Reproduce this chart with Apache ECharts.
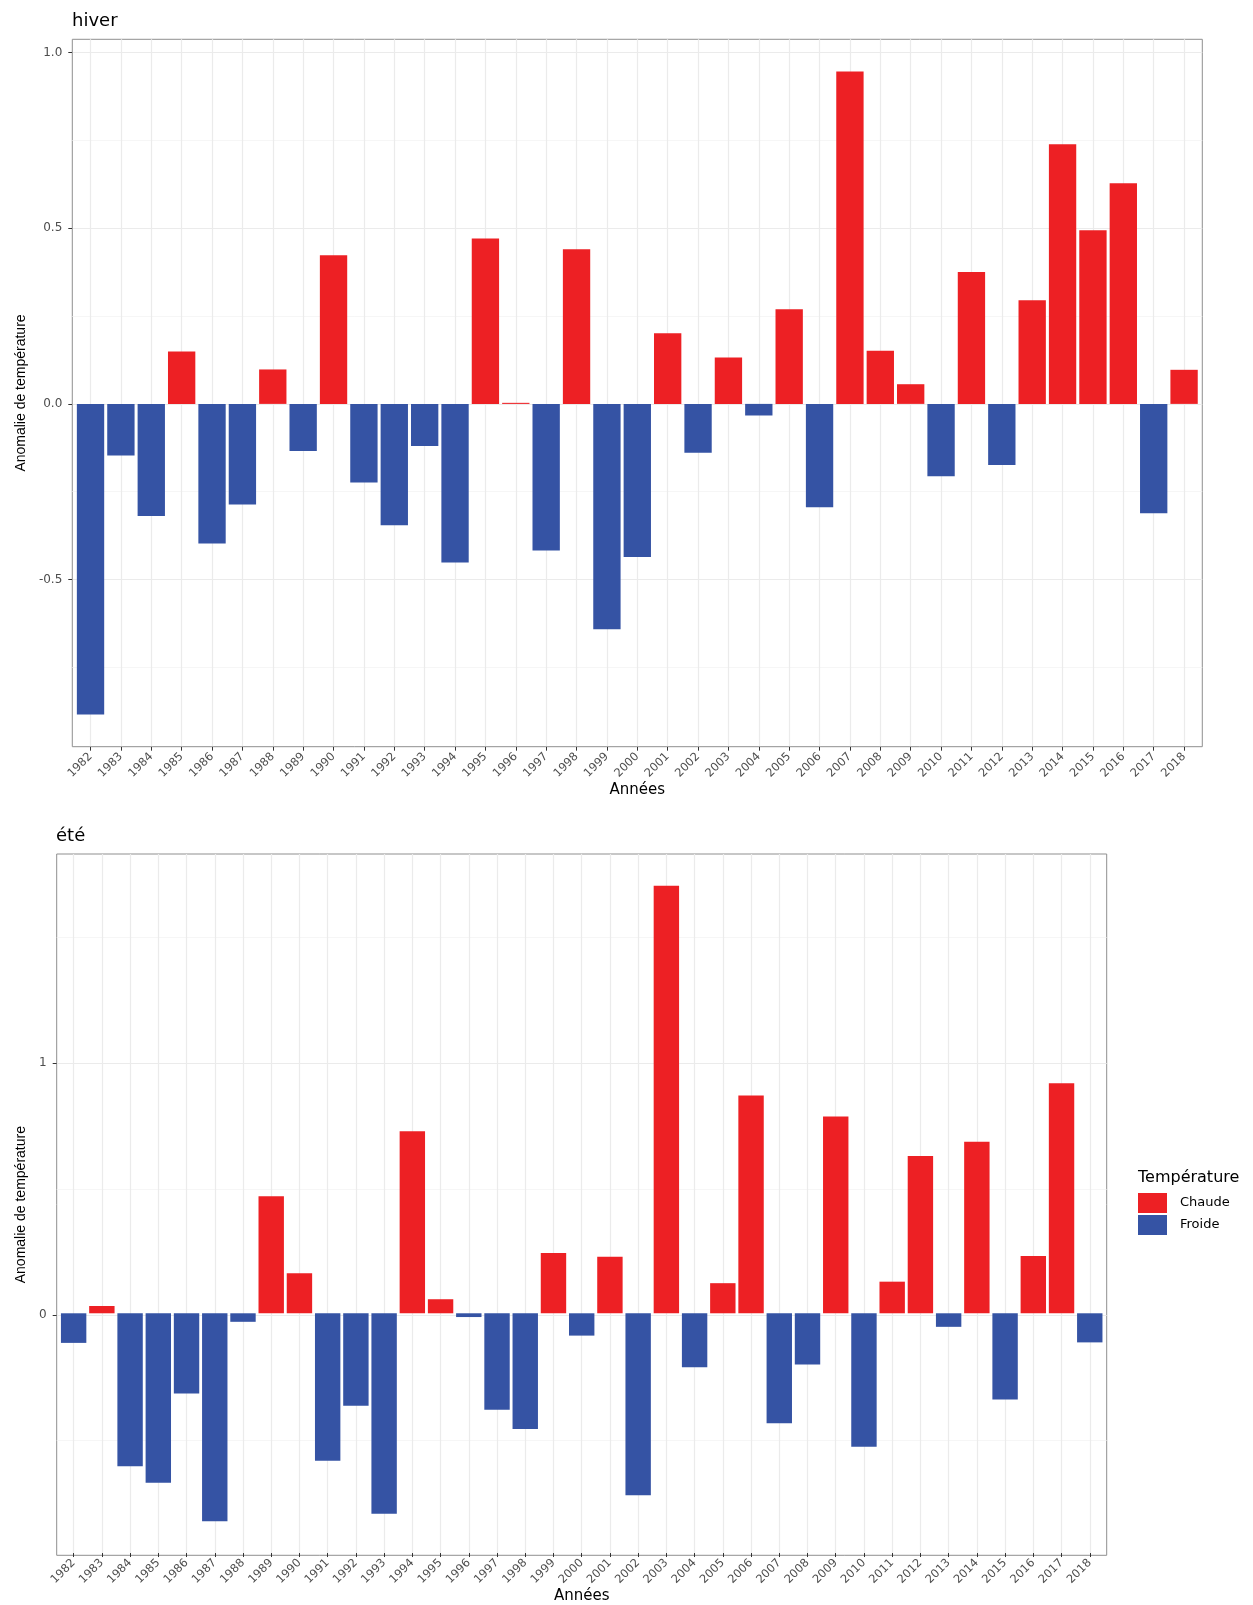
<!DOCTYPE html>
<html>
<head>
<meta charset="utf-8">
<script src="https://cdn.jsdelivr.net/npm/echarts@6/dist/echarts.min.js"></script>
<style>
html,body{margin:0;padding:0;background:#fff;}
#chart{width:1253px;height:1605px;}
</style>
</head>
<body>
<div id="chart"></div>
<script>
// ---- data ----
const years = ['1982','1983','1984','1985','1986','1987','1988','1989','1990','1991','1992','1993','1994','1995','1996','1997','1998','1999','2000','2001','2002','2003','2004','2005','2006','2007','2008','2009','2010','2011','2012','2013','2014','2015','2016','2017','2018'];
const hiverValues = [-0.884,-0.147,-0.319,0.149,-0.397,-0.286,0.098,-0.134,0.423,-0.224,-0.345,-0.120,-0.451,0.471,0.003,-0.417,0.440,-0.641,-0.436,0.201,-0.139,0.132,-0.033,0.269,-0.294,0.946,0.151,0.056,-0.206,0.375,-0.174,0.295,0.739,0.494,0.628,-0.311,0.097];
const eteValues = [-0.118,0.029,-0.610,-0.675,-0.320,-0.829,-0.034,0.466,0.160,-0.588,-0.369,-0.799,0.726,0.056,-0.015,-0.385,-0.461,0.240,-0.089,0.225,-0.725,1.704,-0.215,0.120,0.868,-0.438,-0.204,0.784,-0.532,0.126,0.627,-0.054,0.684,-0.344,0.228,0.917,-0.116];
const hiverMajorTicks = [-0.5, 0, 0.5, 1.0];
const hiverMinorTicks = [-0.75, -0.25, 0.25, 0.75];
const eteMajorTicks = [0, 1];
const eteMinorTicks = [-0.5, 0.5, 1.5];
const seriesNames = ['Chaude', 'Froide'];
const panelTitles = ['hiver', 'été'];
const legendTitle = 'Température';
const xTitle = 'Années';
const yTitle = 'Anomalie de température';

// ---- styles ----
const RED = '#ED2024', BLUE = '#3553A4';
const FONT = 'DejaVu Sans';
const GRID_MAJOR = '#EBEBEB', GRID_MINOR = '#F4F4F4';
const TICK_COL = '#333333', LABEL_COL = '#4D4D4D', BORDER = '#8F8F8F';

function expand(vals) {
  const mn = Math.min(...vals), mx = Math.max(...vals);
  const r = mx - mn;
  return [mn - 0.05 * r, mx + 0.05 * r];
}

const panels = [
  { vals: hiverValues, major: hiverMajorTicks, minor: hiverMinorTicks, left: 72.3, top: 39.3, width: 1130, height: 707.4,
    fmt: v => v.toFixed(1), nameGapY: 44 },
  { vals: eteValues, major: eteMajorTicks, minor: eteMinorTicks, left: 56.7, top: 854, width: 1050, height: 701.3,
    fmt: v => String(Math.round(v)), nameGapY: 29 }
];

const grid = [], xAxis = [], yAxis = [], series = [];
panels.forEach((p, i) => {
  const [ymin, ymax] = expand(p.vals);
  const unit = p.width / (years.length - 1 + 1.2);
  const inset = unit * 0.1;
  const gA = grid.length;
  grid.push({ left: p.left, top: p.top, width: p.width, height: p.height, show: true,
    borderColor: BORDER, borderWidth: 1, backgroundColor: 'transparent', containLabel: false });
  const gB = grid.length;
  grid.push({ left: p.left + inset, top: p.top, width: p.width - 2 * inset, height: p.height, containLabel: false });

  xAxis.push({ gridIndex: gA, type: 'value', min: 0, max: 1, show: false });
  const xB = xAxis.length;
  xAxis.push({ gridIndex: gB, type: 'category', data: years, boundaryGap: true, position: 'bottom',
    name: xTitle, nameLocation: 'middle', nameGap: 34,
    nameTextStyle: { fontFamily: FONT, fontSize: 15, color: '#000', verticalAlign: 'top' },
    axisLine: { show: false, onZero: false },
    axisTick: { show: true, alignWithLabel: true, interval: 0, length: 4, lineStyle: { color: TICK_COL, width: 1 } },
    axisLabel: { interval: 0, rotate: 45, margin: 8, fontFamily: FONT, fontSize: 11.5, color: LABEL_COL },
    splitLine: { show: true, alignWithLabel: true, interval: 0, lineStyle: { color: GRID_MAJOR, width: 1.2 } }
  });

  yAxis.push({ gridIndex: gA, type: 'value', min: ymin, max: ymax,
    name: yTitle, nameLocation: 'middle', nameGap: p.nameGapY, nameRotate: 90,
    nameTextStyle: { fontFamily: 'Liberation Sans', fontSize: 14, color: '#000' },
    axisLine: { show: false, onZero: false },
    axisTick: { show: true, length: 4, customValues: p.major, lineStyle: { color: TICK_COL, width: 1 } },
    axisLabel: { show: true, margin: 10, customValues: p.major, formatter: p.fmt, fontFamily: FONT, fontSize: 12, color: LABEL_COL },
    splitLine: { show: true, lineStyle: { color: GRID_MAJOR, width: 1.2 } }
  });
  yAxis.push({ gridIndex: gA, type: 'value', min: ymin, max: ymax, position: 'left',
    axisLine: { show: false, onZero: false },
    axisTick: { show: false, customValues: p.minor },
    axisLabel: { show: false, customValues: p.minor },
    splitLine: { show: true, lineStyle: { color: GRID_MINOR, width: 0.8 } }
  });
  const yB = yAxis.length;
  yAxis.push({ gridIndex: gB, type: 'value', min: ymin, max: ymax, show: false,
    axisLine: { onZero: false }, splitLine: { show: false } });

  series.push({ name: seriesNames[0], type: 'bar', xAxisIndex: xB, yAxisIndex: yB, stack: 's' + i,
    barCategoryGap: '10%', itemStyle: { color: RED }, z: 3,
    data: p.vals.map(v => v >= 0 ? v : '-') });
  series.push({ name: seriesNames[1], type: 'bar', xAxisIndex: xB, yAxisIndex: yB, stack: 's' + i,
    barCategoryGap: '10%', itemStyle: { color: BLUE }, z: 3,
    data: p.vals.map(v => v < 0 ? v : '-') });
});

const option = {
  animation: false,
  backgroundColor: '#fff',
  title: [
    { text: panelTitles[0], left: 72, top: 12, padding: 0, textStyle: { fontFamily: FONT, fontSize: 18, fontWeight: 'normal', color: '#000' } },
    { text: panelTitles[1], left: 56, top: 827, padding: 0, textStyle: { fontFamily: FONT, fontSize: 18, fontWeight: 'normal', color: '#000' } },
    { text: legendTitle, left: 1138, top: 1170, padding: 0, textStyle: { fontFamily: FONT, fontSize: 16, fontWeight: 'normal', color: '#000' } }
  ],
  legend: {
    data: seriesNames, orient: 'vertical', left: 1138, top: 1193, padding: 0,
    itemWidth: 29, itemHeight: 20, itemGap: 2, icon: 'rect', selectedMode: false,
    textStyle: { fontFamily: FONT, fontSize: 13, color: '#000', padding: [0, 0, 0, 8] }
  },
  grid, xAxis, yAxis, series
};

const chart = echarts.init(document.getElementById('chart'), null, { renderer: 'canvas' });
chart.setOption(option);
</script>
</body>
</html>
